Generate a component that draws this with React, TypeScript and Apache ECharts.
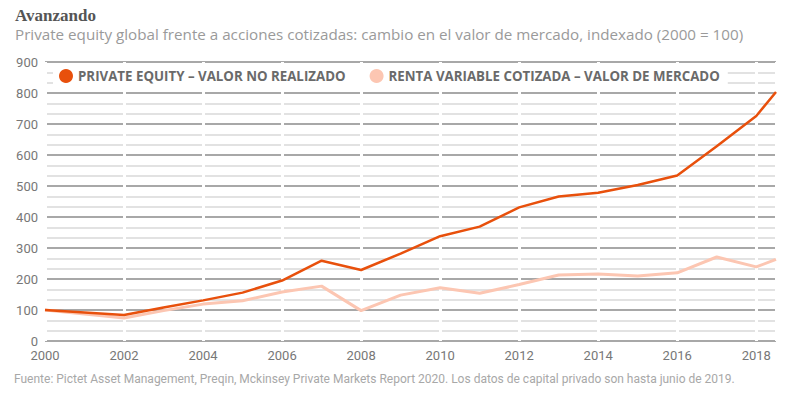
import React, { useEffect, useRef } from "react";
import * as echarts from "echarts";

const years = [2000, 2001, 2002, 2003, 2004, 2005, 2006, 2007, 2008, 2009, 2010, 2011, 2012, 2013, 2014, 2015, 2016, 2017, 2018, 2018.5];
const privateEquity = [100, 92, 84, 108, 131, 156, 195, 259, 229, 282, 338, 369, 431, 466, 478, 503, 534, 628, 726, 803];
const listedEquity = [100, 87, 74, 98, 119, 130, 158, 177, 98, 148, 172, 154, 182, 213, 216, 210, 220, 271, 239, 263];

const peName = "PRIVATE EQUITY – VALOR NO REALIZADO";
const leName = "RENTA VARIABLE COTIZADA – VALOR DE MERCADO";
const titleText = "Avanzando";
const subtitleText = "Private equity global frente a acciones cotizadas: cambio en el valor de mercado, indexado (2000 = 100)";
const sourceText = "Fuente: Pictet Asset Management, Preqin, Mckinsey Private Markets Report 2020. Los datos de capital privado son hasta junio de 2019.";

const PE_COLOR = "#e8500c";
const LE_COLOR = "#fcc6b2";

export default function App() {
  const ref = useRef<HTMLDivElement>(null);
  useEffect(() => {
    if (!ref.current) return;
    const chart = echarts.init(ref.current, null, { renderer: "svg" });
    const font = "Roboto, 'Noto Sans', sans-serif";
    const wide = "'Open Sans', 'Noto Sans', sans-serif";
    chart.setOption({
      animation: false,
      backgroundColor: "#ffffff",
      title: {
        text: titleText,
        subtext: subtitleText,
        left: 10,
        top: 2,
        itemGap: 2,
        textStyle: { fontFamily: "'Liberation Serif', 'DejaVu Serif', serif", fontWeight: "bold", fontSize: 17, color: "#555" },
        subtextStyle: { fontFamily: wide, fontSize: 15.2, color: "#9a9a9a" },
      },
      legend: {
        left: 53,
        top: 65,
        itemGap: 24,
        itemWidth: 14,
        itemHeight: 14,
        icon: "circle",
        backgroundColor: "#ffffff",
        padding: [4, 8, 4, 6],
        textStyle: { fontFamily: wide, fontWeight: "bold", fontSize: 13.3, color: "#6a6a6a" },
        data: [
          { name: peName, itemStyle: { color: PE_COLOR } },
          { name: leName, itemStyle: { color: LE_COLOR } },
        ],
      },
      grid: { left: 45, right: 17, top: 62, bottom: 55 },
      xAxis: {
        type: "value",
        min: 2000,
        max: 2018.5,
        interval: 2,
        axisLine: { show: false },
        axisTick: { show: false },
        axisLabel: {
          fontFamily: font,
          fontSize: 13,
          color: "#777",
          margin: 8,
          showMaxLabel: false,
          formatter: (v: number) => (Number.isInteger(v) && v % 2 === 0 ? String(v) : ""),
        },
        splitLine: { show: true, lineStyle: { color: "#ffffff", width: 3 } },
      },
      yAxis: {
        type: "value",
        min: 0,
        max: 900,
        interval: 100,
        axisLine: { show: false },
        axisTick: { show: false },
        axisLabel: { fontFamily: font, fontSize: 13, color: "#777", margin: 7 },
        splitLine: { show: true, lineStyle: { color: "#a8a8a8", width: 2 } },
        minorTick: { show: false, splitNumber: 3 },
        minorSplitLine: { show: true, lineStyle: { color: "#d8d8d8", width: 1.5 } },
      },
      graphic: [
        {
          type: "text",
          left: 14,
          top: 373,
          style: { text: sourceText, fontFamily: font, fontSize: 12, fill: "#a8a8a8" },
        },
      ],
      series: [
        {
          name: leName,
          type: "line",
          data: years.map((y, i) => [y, listedEquity[i]]),
          showSymbol: false,
          lineStyle: { color: LE_COLOR, width: 3 },
          itemStyle: { color: LE_COLOR },
          z: 3,
        },
        {
          name: peName,
          type: "line",
          data: years.map((y, i) => [y, privateEquity[i]]),
          showSymbol: false,
          lineStyle: { color: PE_COLOR, width: 2.5 },
          itemStyle: { color: PE_COLOR },
          z: 4,
        },
      ],
    });
    return () => chart.dispose();
  }, []);
  return <div ref={ref} style={{ position: "absolute", left: 0, top: 0, width: 793, height: 396 }} />;
}
